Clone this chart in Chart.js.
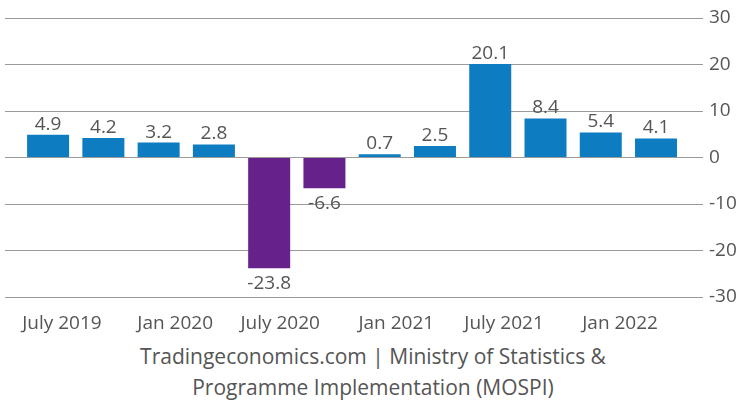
<!DOCTYPE html>
<html>
<head>
<meta charset="utf-8">
<script src="https://cdn.jsdelivr.net/npm/chart.js@4"></script>
<style>
  html, body { margin: 0; padding: 0; background: #fff; }
  #wrap { width: 736px; height: 335px; position: relative; }
  .src { width: 736px; text-align: center; font-family: "Open Sans", sans-serif; font-size: 21px; color: #555; line-height: 31px; padding-left: 10px; box-sizing: border-box; margin-top: 6px; }
</style>
</head>
<body>
<div id="wrap"><canvas id="gdp"></canvas></div>
<div class="src">Tradingeconomics.com | Ministry of Statistics &amp;<br>Programme Implementation (MOSPI)</div>
<script>
// quarterly GDP growth, % yoy
const values = [4.9, 4.2, 3.2, 2.8, -23.8, -6.6, 0.7, 2.5, 20.1, 8.4, 5.4, 4.1];
const tickLabels = ['July 2019', 'Jan 2020', 'July 2020', 'Jan 2021', 'July 2021', 'Jan 2022'];
const tickPositions = [0.25, 2.3, 4.2, 6.3, 8.25, 10.35];
const yTicks = [30, 20, 10, 0, -10, -20, -30];

const BLUE = '#0d7cc1';
const PURPLE = '#66228a';
const TXT = '#555';

const barLabels = {
  id: 'barLabels',
  afterDatasetsDraw(chart) {
    const ctx = chart.ctx;
    const meta = chart.getDatasetMeta(0);
    ctx.save();
    ctx.font = '19px "Open Sans"';
    ctx.fillStyle = TXT;
    ctx.textAlign = 'center';
    meta.data.forEach((bar, i) => {
      const v = values[i];
      if (v >= 0) {
        ctx.textBaseline = 'bottom';
        ctx.fillText(v.toFixed(1), bar.x, bar.y - 1);
      } else {
        ctx.textBaseline = 'top';
        ctx.fillText(v.toFixed(1), bar.x, bar.y + 6);
      }
    });
    ctx.restore();
  }
};

new Chart(document.getElementById('gdp'), {
  type: 'bar',
  data: {
    datasets: [{
      data: values.map((v, i) => ({ x: i, y: v })),
      backgroundColor: values.map(v => v < 0 ? PURPLE : BLUE),
      borderWidth: 0,
      barPercentage: 0.76,
      categoryPercentage: 1
    }]
  },
  options: {
    responsive: true,
    maintainAspectRatio: false,
    animation: false,
    layout: { padding: { left: 5, top: 18, right: 0, bottom: 0 } },
    plugins: { legend: { display: false }, tooltip: { enabled: false } },
    scales: {
      x: {
        type: 'linear',
        offset: false,
        min: -0.78,
        max: 11.85,
        grid: { display: false },
        border: { display: false },
        afterBuildTicks: s => { s.ticks = tickPositions.map(v => ({ value: v })); },
        afterFit: s => { s.height = 38; },
        ticks: {
          autoSkip: false,
          maxRotation: 0,
          padding: 7,
          color: TXT,
          font: { family: 'Open Sans', size: 19 },
          callback: (v, i) => tickLabels[i]
        }
      },
      y: {
        position: 'right',
        min: -30,
        max: 30,
        afterBuildTicks: s => { s.ticks = yTicks.map(v => ({ value: v })); },
        afterFit: s => { s.width = 33; },
        grid: { color: '#9a9a9a', lineWidth: 1, drawTicks: false },
        border: { display: false },
        ticks: {
          padding: 6,
          color: TXT,
          font: { family: 'Open Sans', size: 19 }
        }
      }
    }
  },
  plugins: [barLabels]
});
</script>
</body>
</html>
